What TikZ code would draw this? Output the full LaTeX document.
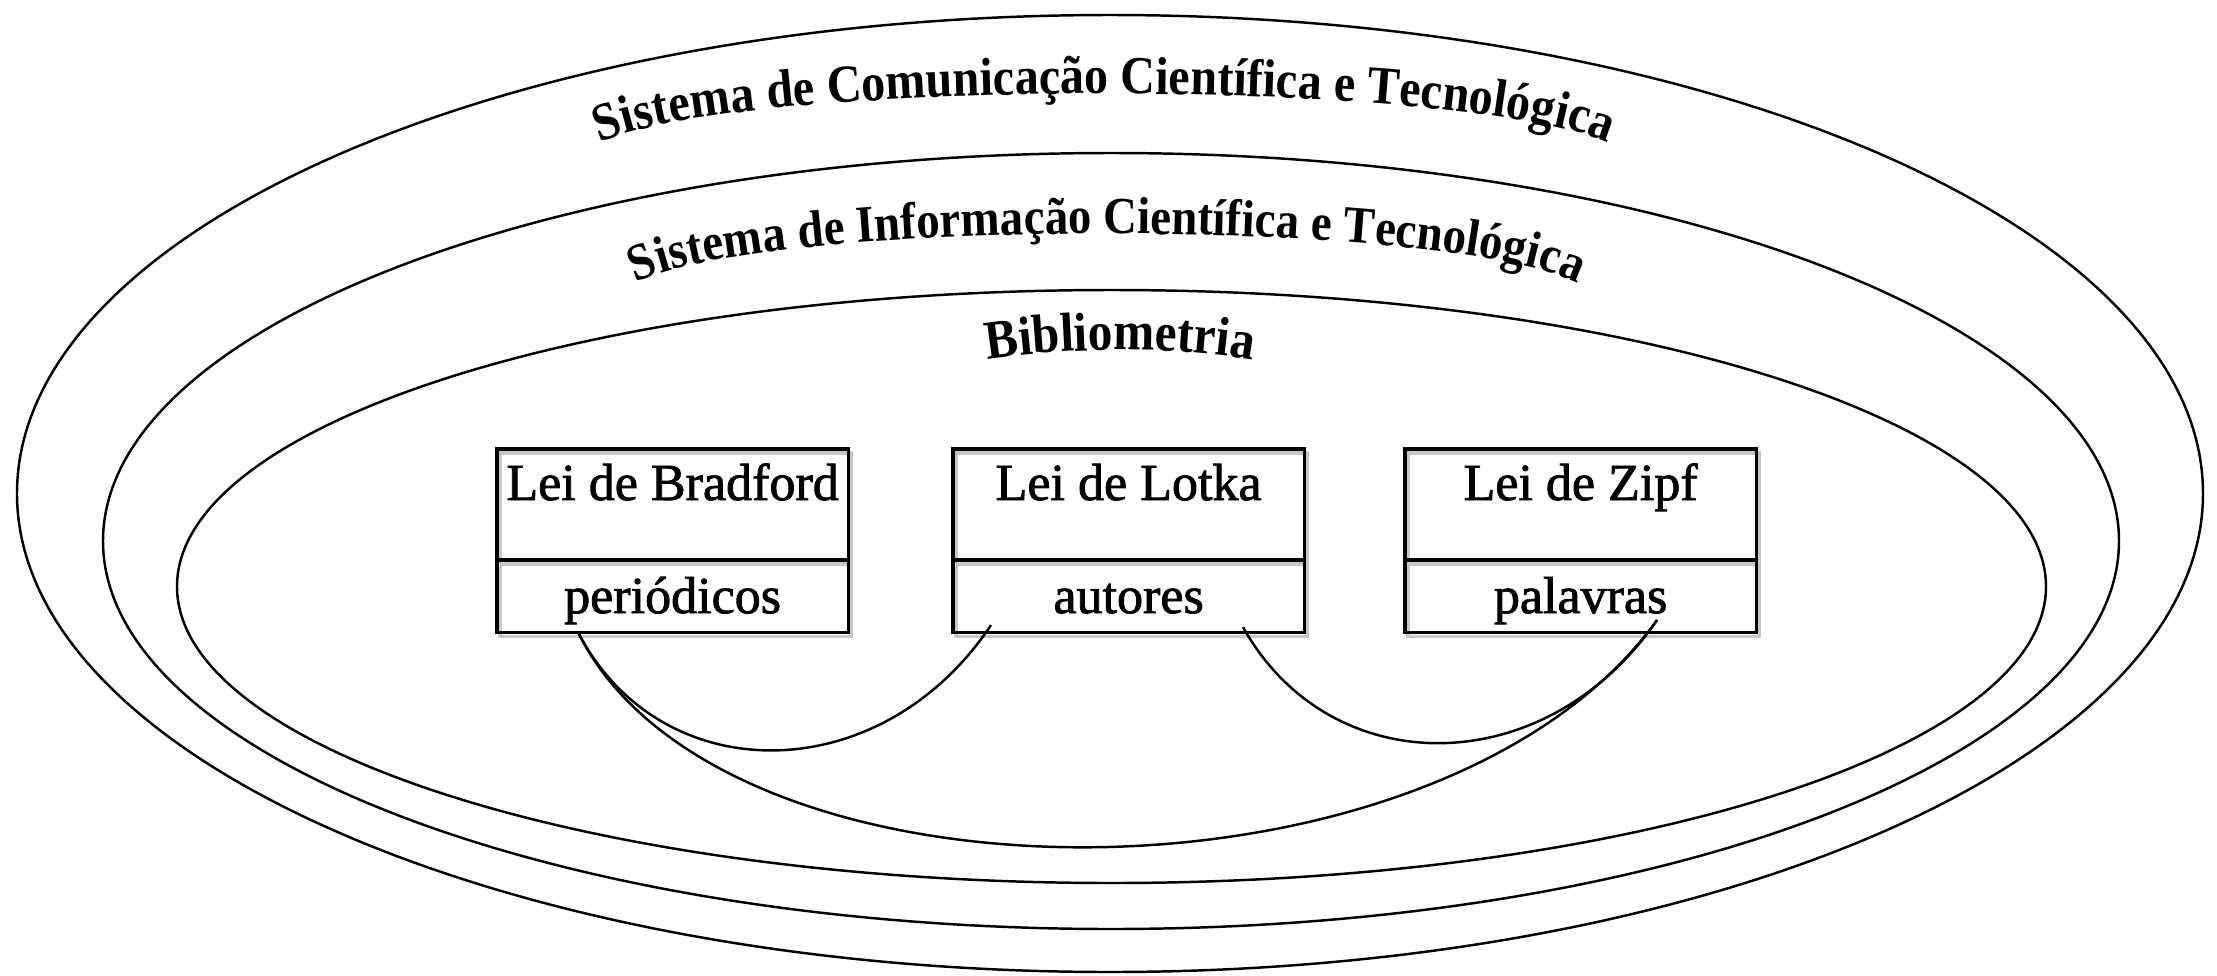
\documentclass[tikz,border=0pt]{standalone}
\usepackage{fontspec}
\setmainfont{Liberation Serif}
\newfontfamily\arcfont[FakeStretch=0.9]{Liberation Serif}
\newfontfamily\boxfont[FakeBold=1.6]{Liberation Serif}
\usetikzlibrary{calc,decorations.text,backgrounds}
\begin{document}
\begin{tikzpicture}[x=0.01cm,y=-0.01cm,
  ring/.style={line width=0.7pt},
  boxpart/.style={draw, line width=0.9pt, minimum width=3.51cm, inner sep=0pt, outer sep=0pt},
  boxshadow/.style={draw=black!22, line width=0.9pt},
  boxtext/.style={font=\boxfont\fontsize{14.8}{17}\selectfont, inner sep=0pt, anchor=base},
  link/.style={line width=0.7pt}
]
\useasboundingbox (0,0) rectangle (2217,975);

% nested ellipses
\draw[ring] (1110,493.5) ellipse [x radius=1093, y radius=478.5];
\draw[ring] (1111,541) ellipse [x radius=1008, y radius=388];
\draw[ring] (1111.5,586.5) ellipse [x radius=934.5, y radius=296.5];

% arched titles
\path[decorate, decoration={text along path, text align=center,
  text={|\arcfont\fontsize{15.2}{17}\selectfont\bfseries|Sistema de Comunicação Científica e Tecnológica}}]
  (585,150) .. controls (700,75) and (1507,75) .. (1622,150);
\path[decorate, decoration={text along path, text align=center,
  text={|\arcfont\fontsize{14.8}{17}\selectfont\bfseries|Sistema de Informação Científica e Tecnológica}}]
  (625,290) .. controls (720,215) and (1493,215) .. (1588,290);
\path[decorate, decoration={text along path, text align=center,
  text={|\arcfont\fontsize{15.6}{17}\selectfont\bfseries|Bibliometria}}]
  (975,362) .. controls (1060,346) and (1180,346) .. (1265,362);

% boxes
\node[boxpart, minimum height=1.11cm, anchor=north west] (bradT) at (497,449) {};
\node[boxpart, minimum height=0.72cm, anchor=north] (bradB) at (bradT.south) {};
\node[boxpart, minimum height=1.11cm, anchor=north west] (lotT) at (953,449) {};
\node[boxpart, minimum height=0.72cm, anchor=north] (lotB) at (lotT.south) {};
\node[boxpart, minimum height=1.11cm, anchor=north west] (zipT) at (1405,449) {};
\node[boxpart, minimum height=0.72cm, anchor=north] (zipB) at (zipT.south) {};

\begin{scope}[on background layer]
  \foreach \b in {brad,lot,zip}{
    \draw[boxshadow] ([shift={(3,4)}]\b T.north west) rectangle ([shift={(3,4)}]\b B.south east);
    \draw[boxshadow] ([shift={(3,4)}]\b T.south west) -- ([shift={(3,4)}]\b T.south east);
  }
\end{scope}

\node[boxtext] (bradL) at ($(bradT.north)+(0,51)$) {Lei de Bradford};
\node[boxtext] (bradW) at ($(bradB.north)+(0,53)$) {periódicos};
\node[boxtext] (lotL) at ($(lotT.north)+(0,51)$) {Lei de Lotka};
\node[boxtext] (lotW) at ($(lotB.north)+(0,53)$) {autores};
\node[boxtext] (zipL) at ($(zipT.north)+(0,51)$) {Lei de Zipf};
\node[boxtext] (zipW) at ($(zipB.north)+(0,53)$) {palavras};

% connector ends
\coordinate (bA) at ($(bradB.south west)+(81,0)$);
\coordinate (lA) at ($(lotB.south west)+(38,-7)$);
\coordinate (lB) at ($(lotB.south west)+(290,-5)$);
\coordinate (zA) at ($(zipB.south west)+(252,-12)$);

\draw[link] (bA) .. controls (660,791) and (880,791) .. (lA);
\draw[link] (lB) .. controls (1330,783) and (1545,783) .. (zA);
\draw[link] (bA) .. controls (720,921) and (1440,921) .. (zA);
\end{tikzpicture}
\end{document}
